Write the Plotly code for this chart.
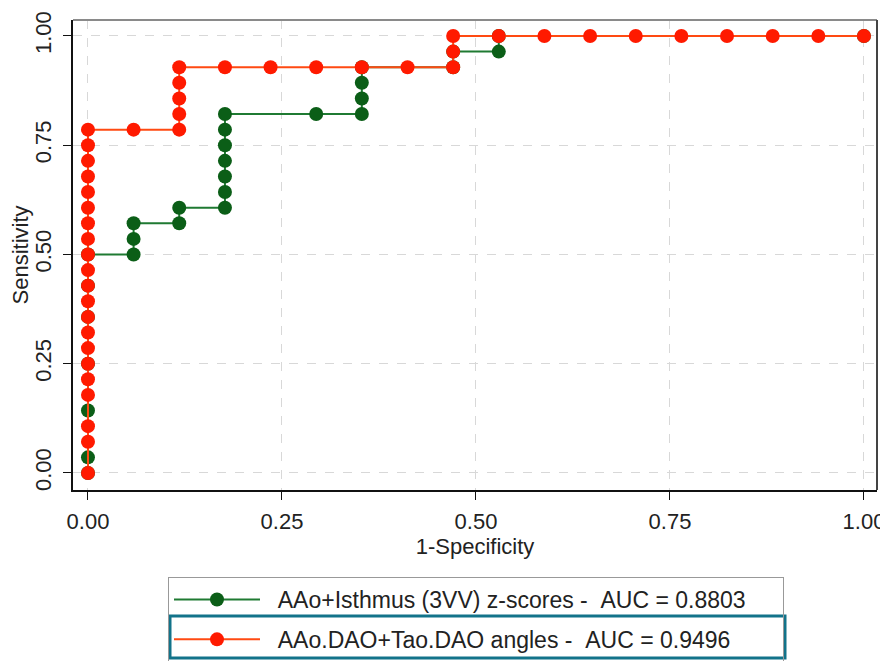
import plotly.graph_objects as go

# ---- data (1-Specificity, Sensitivity) ----
green_name = "\u00a0\u00a0AAo+Isthmus (3VV) z-scores -\u00a0\u00a0AUC = 0.8803\u00a0\u00a0\u00a0\u00a0\u00a0"
green_fpr = [0, 0, 0, 0, 0, 0, 0,
             0.0588, 0.0588, 0.0588, 0.1176, 0.1176,
             0.1765, 0.1765, 0.1765, 0.1765, 0.1765, 0.1765, 0.1765,
             0.2941, 0.3529, 0.3529, 0.3529, 0.3529,
             0.4706, 0.4706, 0.5294, 0.5294, 1.0]
green_tpr = [0, 0.0357, 0.1429, 0.25, 0.3571, 0.4286, 0.5,
             0.5, 0.5357, 0.5714, 0.5714, 0.6071,
             0.6071, 0.6429, 0.6786, 0.7143, 0.75, 0.7857, 0.8214,
             0.8214, 0.8214, 0.8571, 0.8929, 0.9286,
             0.9286, 0.9643, 0.9643, 1.0, 1.0]

red_name = "\u00a0\u00a0AAo.DAO+Tao.DAO angles -\u00a0\u00a0AUC = 0.9496"
red_fpr = [0, 0, 0, 0, 0, 0, 0, 0, 0, 0, 0, 0, 0, 0, 0, 0, 0, 0, 0, 0, 0,
           0.0588, 0.1176, 0.1176, 0.1176, 0.1176, 0.1176,
           0.1765, 0.2353, 0.2941, 0.3529, 0.4118, 0.4706, 0.4706, 0.4706,
           0.5294, 0.5882, 0.6471, 0.7059, 0.7647, 0.8235, 0.8824, 0.9412, 1.0]
red_tpr = [0, 0.0714, 0.1071, 0.1786, 0.2143, 0.25, 0.2857, 0.3214, 0.3571,
           0.3929, 0.4286, 0.4643, 0.5, 0.5357, 0.5714, 0.6071, 0.6429,
           0.6786, 0.7143, 0.75, 0.7857,
           0.7857, 0.7857, 0.8214, 0.8571, 0.8929, 0.9286,
           0.9286, 0.9286, 0.9286, 0.9286, 0.9286, 0.9286, 0.9643, 1.0,
           1.0, 1.0, 1.0, 1.0, 1.0, 1.0, 1.0, 1.0, 1.0]

tick_vals = [0, 0.25, 0.5, 0.75, 1.0]
tick_text = ["0.00", "0.25", "0.50", "0.75", "1.00"]

FONT = "Liberation Sans, Arial, sans-serif"
FS = 22
FS_LEG = 23

fig = go.Figure()
fig.add_trace(go.Scatter(
    x=green_fpr, y=green_tpr, mode="lines+markers", name=green_name,
    legendgroup="g",
    line=dict(color="#1f7a32", width=2),
    marker=dict(color="#0b5e17", size=14),
))
fig.add_trace(go.Scatter(
    x=red_fpr, y=red_tpr, mode="lines+markers", name=red_name,
    legendgroup="r",
    line=dict(color="#ff4a12", width=2),
    marker=dict(color="#ff1a00", size=14),
))

# page body has an 8px margin, so the figure is drawn 8px lower/right
OFF = 8
W, H = 880, 653
L, R, T, B = 65, 11, 12, 171
pw = W - L - R
ph = H - T - B

def px_x(p):
    return (p - OFF - L) / pw

def px_y(p):
    return (H - B - (p - OFF)) / ph

fig.update_layout(
    width=W, height=H,
    margin=dict(l=L, r=R, t=T, b=B, pad=0, autoexpand=False),
    paper_bgcolor="white", plot_bgcolor="white",
    font=dict(family=FONT, size=FS, color="#222"),
    showlegend=True,
    legend=dict(
        x=px_x(168), y=px_y(577), xanchor="left", yanchor="top",
        bordercolor="#999", borderwidth=1, bgcolor="rgba(0,0,0,0)",
        font=dict(family=FONT, size=FS_LEG, color="#222"),
        itemwidth=86, tracegroupgap=7,
    ),
    xaxis=dict(
        range=[-0.0193, 1.0168], tickvals=tick_vals, ticktext=tick_text,
        showgrid=True, gridcolor="#d8d8d8", griddash="dash", gridwidth=1,
        zeroline=False, showline=True, linecolor="#111", linewidth=2,
        ticks="outside", ticklen=8, tickcolor="#111", tickwidth=1,
        ticklabelstandoff=3,
        title=dict(text="1-Specificity", standoff=0,
                   font=dict(family=FONT, size=FS, color="#222")),
    ),
    yaxis=dict(
        range=[-0.039, 1.0366], tickvals=tick_vals, ticktext=tick_text,
        tickangle=-90,
        showgrid=True, gridcolor="#d8d8d8", griddash="dash", gridwidth=1,
        zeroline=False, showline=True, linecolor="#111", linewidth=2,
        ticks="outside", ticklen=8, tickcolor="#111", tickwidth=1,
        ticklabelstandoff=3,
        title=dict(text="Sensitivity", standoff=0,
                   font=dict(family=FONT, size=FS, color="#222")),
    ),
    shapes=[
        # top and right frame
        dict(type="line", xref="paper", yref="paper", x0=0, x1=1, y0=1, y1=1,
             line=dict(color="#8a8a8a", width=2), layer="above"),
        dict(type="line", xref="paper", yref="paper", x0=1, x1=1, y0=0, y1=1,
             line=dict(color="#444", width=2), layer="above"),
        # teal highlight box around second legend entry
        dict(type="rect", xref="paper", yref="paper",
             x0=px_x(170), x1=px_x(785), y0=px_y(658), y1=px_y(616),
             line=dict(color="#12738a", width=3)),
    ],
)

fig.write_html("out.html")
